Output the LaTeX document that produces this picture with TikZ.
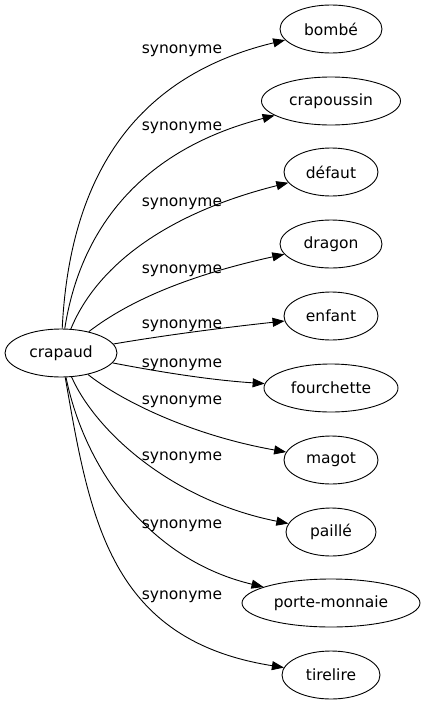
\documentclass[tikz,border=0pt]{standalone}
\usepackage{fontspec}
\setmainfont{DejaVu Sans}
\usetikzlibrary{shapes,arrows.meta}

\begin{document}
\begin{tikzpicture}[x=1pt, y=-1pt,
    word/.style={ellipse, draw, line width=0.9pt, inner sep=0pt, minimum height=48pt},
    link/.style={line width=0.9pt, -{Triangle[length=12pt, width=9pt]}},
    lbl/.style={anchor=base, inner sep=0pt},
    every node/.style={font=\fontsize{15.5}{18}\selectfont}]
    \useasboundingbox (0,0) rectangle (426,707);

    % Words
    \node[word, minimum width=112pt] (crapaud) at (61,353) {crapaud};

    \node[word, minimum width=102pt] (bombe) at (331,29) {bombé};
    \node[word, minimum width=139pt] (crapoussin) at (331,101) {crapoussin};
    \node[word, minimum width=94pt] (defaut) at (331,172) {défaut};
    \node[word, minimum width=102pt] (dragon) at (331,244) {dragon};
    \node[word, minimum width=94pt] (enfant) at (331,316) {enfant};
    \node[word, minimum width=134pt] (fourchette) at (331,388) {fourchette};
    \node[word, minimum width=94pt] (magot) at (331,460) {magot};
    \node[word, minimum width=90pt] (paille) at (331,532) {paillé};
    \node[word, minimum width=178pt] (portemonnaie) at (331,603) {porte-monnaie};
    \node[word, minimum width=98pt] (tirelire) at (331,675) {tirelire};

    % Links
    \draw[link] (crapaud) .. controls (70,170) and (140,75) .. (bombe);
    \draw[link] (crapaud) .. controls (80,230) and (140,150) .. (crapoussin);
    \draw[link] (crapaud) .. controls (95,270) and (160,215) .. (defaut);
    \draw[link] (crapaud) .. controls (130,300) and (190,275) .. (dragon);
    \draw[link] (crapaud) .. controls (160,336) and (220,328) .. (enfant);
    \draw[link] (crapaud) .. controls (160,372) and (210,380) .. (fourchette);
    \draw[link] (crapaud) .. controls (120,400) and (190,435) .. (magot);
    \draw[link] (crapaud) .. controls (95,430) and (170,500) .. (paille);
    \draw[link] (crapaud) .. controls (85,470) and (150,560) .. (portemonnaie);
    \draw[link] (crapaud) .. controls (90,520) and (110,640) .. (tirelire);

    % Labels
    \node[lbl] (s1) at (182,53) {synonyme};
    \node[lbl] (s2) at (182,130) {synonyme};
    \node[lbl] (s3) at (182,206) {synonyme};
    \node[lbl] (s4) at (182,273) {synonyme};
    \node[lbl] (s5) at (182,328) {synonyme};
    \node[lbl] (s6) at (182,367) {synonyme};
    \node[lbl] (s7) at (182,404) {synonyme};
    \node[lbl] (s8) at (182,460) {synonyme};
    \node[lbl] (s9) at (182,528) {synonyme};
    \node[lbl] (s10) at (182,599) {synonyme};
\end{tikzpicture}
\end{document}
